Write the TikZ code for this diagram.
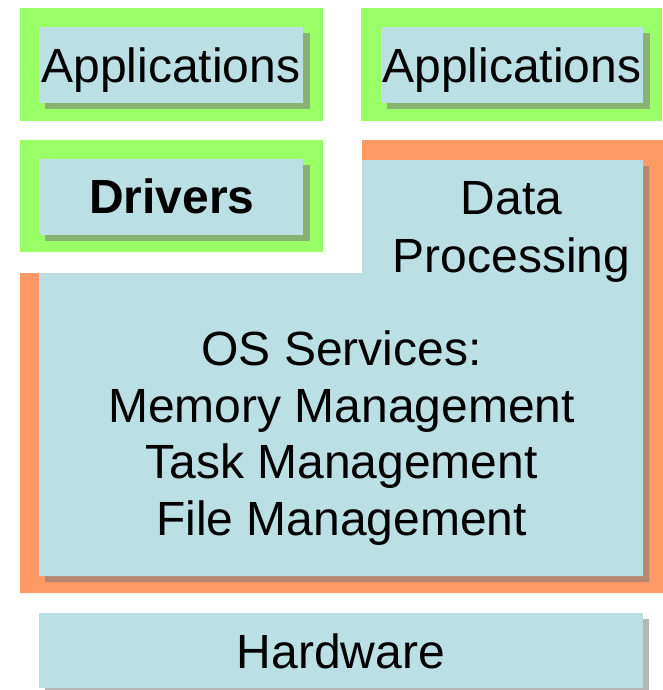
\documentclass[tikz,border=0pt]{standalone}
\usepackage{fontspec}
\setmainfont{Liberation Sans}
\definecolor{layergreen}{HTML}{99FF66}
\definecolor{layerorange}{HTML}{FF9966}
\definecolor{panel}{HTML}{BBE0E3}
\definecolor{shadowgray}{HTML}{7A7A7A}
\begin{document}
\begin{tikzpicture}[x=1pt,y=-1pt,
  framebox/.style={fill=#1, draw=none, inner sep=0, anchor=north west},
  panelbox/.style={fill=panel, draw=none, inner sep=0, anchor=north west},
  dropshadow/.style={fill=shadowgray, fill opacity=0.55, draw=none},
  layertext/.style={font=\fontsize{48}{56}\selectfont, anchor=base, inner sep=0, text=black}]
\useasboundingbox (0,0) rectangle (663,690);

% green frames of the user-level blocks
\node[framebox=layergreen, minimum width=303pt, minimum height=113pt] (appframeL) at (20,8) {};
\node[framebox=layergreen, minimum width=301pt, minimum height=113pt] (appframeR) at (361,8) {};
\node[framebox=layergreen, minimum width=303pt, minimum height=112pt] (drvframe) at (20,140) {};

% orange frame of the kernel block
\fill[layerorange] (20,273) -- (362,273) -- (362,140) -- (663,140) -- (663,593) -- (20,593) -- cycle;

% panels with their drop shadows
\fill[dropshadow] (45,33) rectangle (310,109);
\node[panelbox, minimum width=264pt, minimum height=76pt] (appL) at (39,27) {};
\fill[dropshadow] (387,33) rectangle (650,109);
\node[panelbox, minimum width=262pt, minimum height=76pt] (appR) at (381,27) {};
\fill[dropshadow] (45,165) rectangle (310,241);
\node[panelbox, minimum width=264pt, minimum height=76pt] (drv) at (39,159) {};

\fill[dropshadow] (45,279) -- (368,279) -- (368,166) -- (649,166) -- (649,582) -- (45,582) -- cycle;
\fill[panel] (39,273) -- (362,273) -- (362,160) -- (643,160) -- (643,576) -- (39,576) -- cycle;

\fill[dropshadow] (45,619) rectangle (649,690);
\node[panelbox, minimum width=604pt, minimum height=75pt] (hw) at (39,613) {};

% labels
\node[layertext] (appLtext) at (171,83) {Applications};
\node[layertext] (appRtext) at (512,83) {Applications};
\node[layertext, font=\fontsize{48}{56}\selectfont\bfseries] (drvtext) at (172,213) {Drivers};
\node[layertext] (dataline) at (511.5,214) {Data};
\node[layertext] (procline) at (511.5,272) {Processing};
\node[layertext] (osline) at (341.5,365) {OS Services:};
\node[layertext] (memline) at (341.5,422) {Memory Management};
\node[layertext] (taskline) at (341.5,478) {Task Management};
\node[layertext] (fileline) at (341.5,535) {File Management};
\node[layertext] (hwtext) at (341,668) {Hardware};
\end{tikzpicture}
\end{document}
